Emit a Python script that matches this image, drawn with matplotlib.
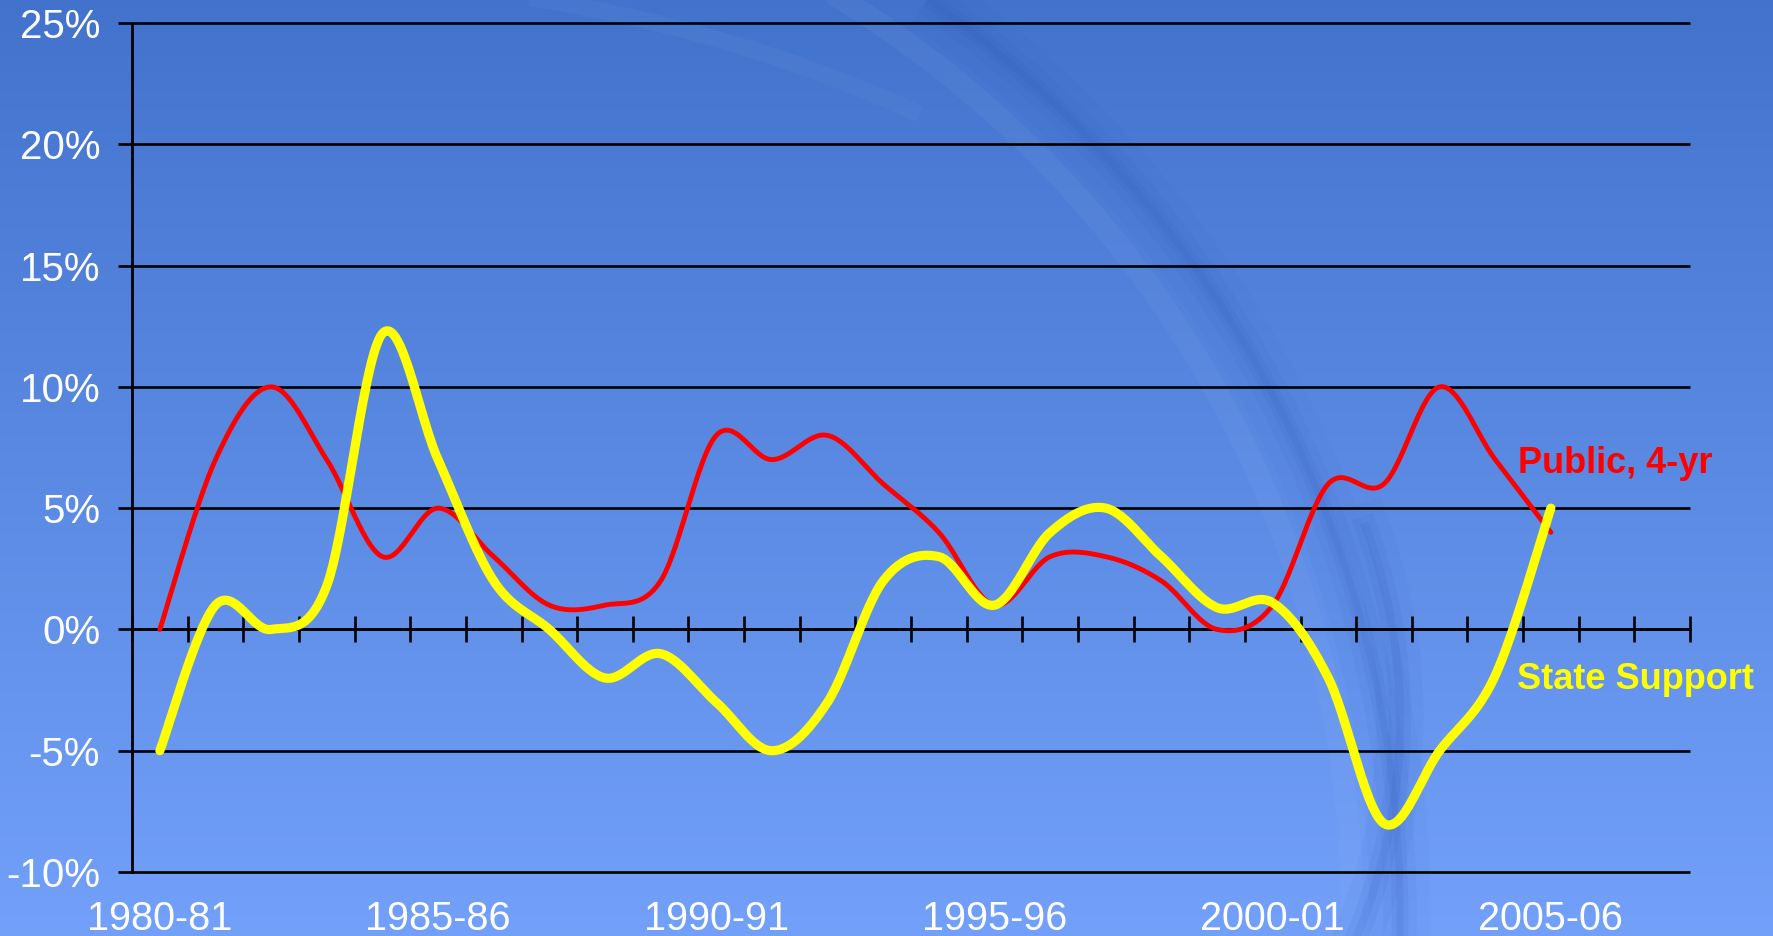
import numpy as np
import matplotlib
matplotlib.use("Agg")
import matplotlib.pyplot as plt

plt.rcParams["font.family"] = ["Liberation Sans", "DejaVu Sans"]

# ---- data (annual % change) ----
years = ["1980-81", "1981-82", "1982-83", "1983-84", "1984-85", "1985-86",
         "1986-87", "1987-88", "1988-89", "1989-90", "1990-91", "1991-92",
         "1992-93", "1993-94", "1994-95", "1995-96", "1996-97", "1997-98",
         "1998-99", "1999-00", "2000-01", "2001-02", "2002-03", "2003-04",
         "2004-05", "2005-06", "2006-07", "2007-08"]
public_4yr = [0, 7, 10, 7, 3, 5, 3, 1, 1, 2, 8, 7, 8, 6, 4, 1, 3, 3, 2, 0,
              1, 6, 6, 10, 7, 4]
state_support = [-5, 1, 0, 1.8, 12.2, 7, 2, 0, -2, -1, -3, -5, -3, 2, 3, 1,
                 4, 5, 3, 0.9, 1.1, -2, -8, -5, -1.9, 5]
y_ticks = [-10, -5, 0, 5, 10, 15, 20, 25]


def smooth(ys, n=30):
    # excel-style smoothed line: bezier with catmull-rom control points
    ys = np.asarray(ys, float)
    xs = np.arange(len(ys), dtype=float)
    px, py = [], []
    for i in range(len(ys) - 1):
        a = max(i - 1, 0)
        b = min(i + 2, len(ys) - 1)
        p0 = np.array([xs[i], ys[i]])
        p3 = np.array([xs[i + 1], ys[i + 1]])
        p1 = p0 + (np.array([xs[i + 1], ys[i + 1]]) - np.array([xs[a], ys[a]])) / 6
        p2 = p3 - (np.array([xs[b], ys[b]]) - np.array([xs[i], ys[i]])) / 6
        t = np.linspace(0, 1, n)[:, None]
        c = (1 - t) ** 3 * p0 + 3 * (1 - t) ** 2 * t * p1 + 3 * (1 - t) * t ** 2 * p2 + t ** 3 * p3
        px.extend(c[:, 0])
        py.extend(c[:, 1])
    return np.array(px), np.array(py)


W, H = 1773, 936
fig = plt.figure(figsize=(W / 100, H / 100), dpi=100)

# ---- background: blue gradient + soft arcs ----
bg = fig.add_axes([0, 0, 1, 1], zorder=0)
bg.axis("off")
top = np.array([0.26, 0.45, 0.80])
bot = np.array([0.45, 0.63, 0.98])
g = np.linspace(0, 1, 256)[:, None, None]
grad = top + (bot - top) * g
grad = np.repeat(grad, 4, axis=1)
bg.imshow(grad, extent=[0, W, H, 0], aspect="auto")

th = np.linspace(-np.pi / 2, 0.3, 400)
for lw, al in [(44, 0.04), (24, 0.06), (12, 0.08), (5, 0.10)]:
    bg.plot(277 + 1123 * np.cos(th), 914 + 1123 * np.sin(th),
            color="#2a55b5", lw=lw, alpha=al, solid_capstyle="butt")
bg.plot(277 + 1075 * np.cos(th), 914 + 1075 * np.sin(th),
        color="#a8c4f5", lw=16, alpha=0.07)
th2 = np.linspace(-0.35, 0.45, 200)
for lw, al in [(34, 0.05), (16, 0.08), (6, 0.10)]:
    bg.plot(836 + 564 * np.cos(th2), 720 + 564 * np.sin(th2),
            color="#2a55b5", lw=lw, alpha=al)
th3 = np.linspace(-np.pi / 2, -1.15, 200)
bg.plot(300 + 1500 * np.cos(th3), 1480 + 1500 * np.sin(th3),
        color="#a8c4f5", lw=12, alpha=0.05)
bg.set_xlim(0, W)
bg.set_ylim(H, 0)

# ---- chart ----
ax = fig.add_axes([132 / W, (H - 872) / H, (1690 - 132) / W, (872 - 23) / H], zorder=1)
ax.patch.set_alpha(0)
ax.set_xlim(-0.5, len(years) - 0.5)
ax.set_ylim(-10, 25)

ax.hlines(y_ticks, -0.5, len(years) - 0.5, colors="black", lw=1.9,
          clip_on=False, zorder=1)

for s in ["top", "right"]:
    ax.spines[s].set_visible(False)
ax.spines["left"].set_linewidth(2)
ax.spines["bottom"].set_position(("data", 0))
ax.spines["bottom"].set_linewidth(1.9)

ax.set_xticks(np.arange(-0.5, len(years), 1))
ax.tick_params(axis="x", direction="inout", length=19, width=1.9,
               labelbottom=False)
ax.set_yticks(y_ticks)
ax.set_yticklabels([f"{v}%" for v in y_ticks])
ax.tick_params(axis="y", direction="out", length=10, width=1.9, pad=13,
               labelsize=29, labelcolor="white")

for i in range(0, len(years), 5):
    ax.text(i, -0.033, years[i], transform=ax.get_xaxis_transform(),
            ha="center", va="top", color="white", fontsize=28.5)

x1, y1 = smooth(public_4yr)
x2, y2 = smooth(state_support)
ax.plot(x1, y1, color="#ff0000", lw=3.5, zorder=3, solid_capstyle="round")
ax.plot(x2, y2, color="#ffff00", lw=6.6, zorder=4, solid_capstyle="round")

ax.text(24.41, 6.43, "Public, 4-yr", color="#ff0000", fontsize=26,
        fontweight="bold", ha="left", va="baseline", clip_on=False)
ax.text(24.39, -2.47, "State Support", color="#ffff00", fontsize=26,
        fontweight="bold", ha="left", va="baseline", clip_on=False)

fig.savefig("out.png", dpi=100)
